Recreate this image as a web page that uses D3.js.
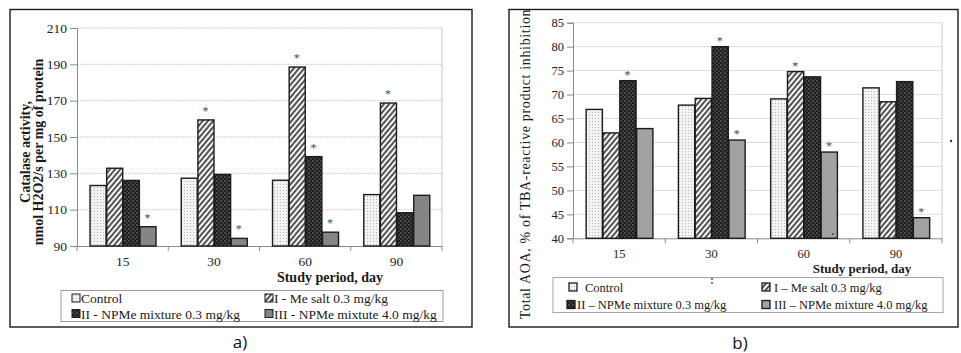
<!DOCTYPE html>
<html><head><meta charset="utf-8">
<script src="https://cdn.jsdelivr.net/npm/d3@7"></script>
<style>
html,body{margin:0;padding:0;background:#fff;}
svg{display:block;}
</style></head>
<body>
<svg id="c" width="961" height="353"></svg>
<script>
// ---------- data ----------
const categories = ["15", "30", "60", "90"];
const seriesNamesA = ["Control", "I - Me salt 0.3 mg/kg", "II - NPMe mixture 0.3 mg/kg", "III - NPMe mixtute 4.0 mg/kg"];
const seriesNamesB = ["Control", "I –  Me salt 0.3 mg/kg", "II –  NPMe mixture  0.3 mg/kg", "III –  NPMe mixture 4.0 mg/kg"];

// a) Catalase activity
const catalaseControl = [123.3, 127.3, 126.2, 118.3];
const catalaseMeSalt = [132.8, 159.4, 188.5, 168.7];
const catalaseNPMe03 = [126.1, 129.4, 139.2, 108.3];
const catalaseNPMe40 = [100.6, 94.2, 97.6, 117.9];
const yTicksA = [90, 110, 130, 150, 170, 190, 210];
const starsA = [[0, 3], [1, 1], [1, 3], [2, 1], [2, 2], [2, 3], [3, 1]];

// b) Total AOA
const aoaControl = [66.9, 67.8, 69.1, 71.4];
const aoaMeSalt = [62.0, 69.2, 74.8, 68.5];
const aoaNPMe03 = [72.9, 80.0, 73.7, 72.7];
const aoaNPMe40 = [62.9, 60.5, 58.0, 44.3];
const yTicksB = [40, 45, 50, 55, 60, 65, 70, 75, 80, 85];
const starsB = [[0, 2], [1, 2], [1, 3], [2, 1], [2, 3], [3, 3]];

// ---------- drawing ----------
const svg = d3.select("#c");
const defs = svg.append("defs");
const SERIF = "'Liberation Serif','Times New Roman',serif";

function makePatterns(prefix, grayFill) {
  const p0 = defs.append("pattern").attr("id", prefix + "dots").attr("width", 3).attr("height", 3).attr("patternUnits", "userSpaceOnUse");
  p0.append("rect").attr("width", 3).attr("height", 3).attr("fill", "#f3f3f3");
  p0.append("rect").attr("x", 1).attr("y", 1).attr("width", 1).attr("height", 1).attr("fill", "#b5b5b5");
  const p1 = defs.append("pattern").attr("id", prefix + "hatch").attr("width", 4).attr("height", 4).attr("patternUnits", "userSpaceOnUse").attr("patternTransform", "rotate(40)");
  p1.append("rect").attr("width", 4).attr("height", 4).attr("fill", "#f5f5f5");
  p1.append("line").attr("x1", 1).attr("y1", 0).attr("x2", 1).attr("y2", 4).attr("stroke", "#2b2b2b").attr("stroke-width", 1.6);
  const p2 = defs.append("pattern").attr("id", prefix + "check").attr("width", 4).attr("height", 4).attr("patternUnits", "userSpaceOnUse");
  p2.append("rect").attr("width", 4).attr("height", 4).attr("fill", "#1e1e1e");
  p2.append("rect").attr("x", 0).attr("y", 0).attr("width", 2).attr("height", 2).attr("fill", "#4a4a4a");
  p2.append("rect").attr("x", 2).attr("y", 2).attr("width", 2).attr("height", 2).attr("fill", "#3a3a3a");
  return ["url(#" + prefix + "dots)", "url(#" + prefix + "hatch)", "url(#" + prefix + "check)", grayFill];
}
const fillsA = makePatterns("a", "#858585");
const fillsB = makePatterns("b", "#a2a2a2");

function panel(cfg) {
  const g = svg.append("g");
  g.append("rect").attr("x", cfg.frame[0]).attr("y", cfg.frame[1]).attr("width", cfg.frame[2]).attr("height", cfg.frame[3])
    .attr("fill", "none").attr("stroke", "#1a1a1a").attr("stroke-width", 1.4);

  const x = d3.scaleBand().domain(categories).range([cfg.left, cfg.right]).paddingInner(0.27).paddingOuter(0.135);
  const xs = d3.scaleBand().domain(d3.range(4)).range([0, x.bandwidth()]).padding(0);
  const y = d3.scaleLinear().domain([cfg.yTicks[0], cfg.yTicks[cfg.yTicks.length - 1]]).range([cfg.bottom, cfg.top]);

  g.append("g").selectAll("line").data(cfg.yTicks.slice(1)).join("line")
    .attr("x1", cfg.left).attr("x2", cfg.right).attr("y1", d => y(d)).attr("y2", d => y(d))
    .attr("stroke", cfg.gridColor).attr("stroke-width", 1).attr("stroke-dasharray", cfg.gridDash);
  g.append("line").attr("x1", cfg.right).attr("x2", cfg.right).attr("y1", cfg.top).attr("y2", cfg.bottom)
    .attr("stroke", "#c8c8c8").attr("stroke-width", 1);

  const ya = g.append("g").attr("transform", `translate(${cfg.left},0)`)
    .call(d3.axisLeft(y).tickValues(cfg.yTicks).tickSize(cfg.ySize).tickPadding(cfg.yPad).tickFormat(d3.format("d")));
  ya.select(".domain").attr("stroke", "#8a8a8a");
  ya.selectAll(".tick line").attr("stroke", "#8a8a8a");
  ya.selectAll("text").attr("font-family", SERIF).attr("font-size", cfg.tickFont).attr("fill", "#222");

  const xa = g.append("g").attr("transform", `translate(0,${cfg.bottom})`)
    .call(d3.axisBottom(x).tickSize(0).tickPadding(cfg.xPad));
  xa.select(".domain").attr("stroke", "#8a8a8a");
  xa.selectAll("text").attr("font-family", SERIF).attr("font-size", cfg.tickFont).attr("fill", "#222");
  const step = x.step();
  g.append("g").selectAll("line").data(d3.range(categories.length + 1)).join("line")
    .attr("x1", i => cfg.left + i * step).attr("x2", i => cfg.left + i * step)
    .attr("y1", cfg.bottom).attr("y2", cfg.bottom + 5).attr("stroke", "#8a8a8a");

  const rows = [];
  cfg.series.forEach((vals, s) => vals.forEach((v, c) => rows.push({ c, s, v })));
  g.append("g").selectAll("rect").data(rows).join("rect")
    .attr("x", d => x(categories[d.c]) + xs(d.s) + 0.7)
    .attr("width", xs.bandwidth() - 0.6)
    .attr("y", d => y(d.v))
    .attr("height", d => cfg.bottom - y(d.v))
    .attr("fill", d => cfg.fills[d.s])
    .attr("stroke", "#1c1c1c").attr("stroke-width", 1.4);

  g.append("g").selectAll("text").data(cfg.stars).join("text")
    .attr("x", d => x(categories[d[0]]) + xs(d[1]) + xs.bandwidth() / 2)
    .attr("y", d => y(cfg.series[d[1]][d[0]]) - cfg.starGap)
    .attr("text-anchor", "middle").attr("font-family", SERIF).attr("font-size", 12).attr("fill", "#4a4a4a").text("*");

  return { g, x, y };
}

// ----- panel a -----
const pa = panel({
  frame: [10, 9.5, 462, 317.5], left: 77, right: 442, top: 28, bottom: 246,
  yTicks: yTicksA, series: [catalaseControl, catalaseMeSalt, catalaseNPMe03, catalaseNPMe40],
  fills: fillsA, stars: starsA, tickFont: 13.5, ySize: 7, yPad: 3, xPad: 10,
  gridColor: "#cfcfcf", gridDash: "2,1", starGap: 5
});
pa.g.append("text").attr("transform", "translate(25,152) rotate(-90)").attr("text-anchor", "middle").attr("dominant-baseline", "central")
  .attr("font-family", SERIF).attr("font-size", 14).attr("font-weight", "bold").attr("fill", "#1a1a1a").text("Catalase activity,");
pa.g.append("text").attr("transform", "translate(38.5,152) rotate(-90)").attr("text-anchor", "middle").attr("dominant-baseline", "central")
  .attr("font-family", SERIF).attr("font-size", 14).attr("font-weight", "bold").attr("fill", "#1a1a1a").text("nmol H2O2/s per mg of protein");
pa.g.append("text").attr("x", 330).attr("y", 282).attr("text-anchor", "middle")
  .attr("font-family", SERIF).attr("font-size", 14).attr("font-weight", "bold").attr("fill", "#1a1a1a").text("Study period, day");

const lgA = pa.g.append("g");
lgA.append("rect").attr("x", 61).attr("y", 290.5).attr("width", 382).attr("height", 31).attr("fill", "none").attr("stroke", "#9a9a9a");
const legPosA = [[76, 298.5], [269, 298.5], [76, 314], [269, 314]];
seriesNamesA.forEach((n, i) => {
  const [lx, ly] = legPosA[i];
  lgA.append("rect").attr("x", lx - 4).attr("y", ly - 4.5).attr("width", 8).attr("height", 8).attr("fill", fillsA[i]).attr("stroke", "#1c1c1c");
  lgA.append("text").attr("x", lx + 5).attr("y", ly).attr("dominant-baseline", "central")
    .attr("font-family", SERIF).attr("font-size", 13.5).attr("fill", "#1a1a1a").text(n);
});

// ----- panel b -----
const pb = panel({
  frame: [509, 9.5, 449, 317.5], left: 573, right: 942, top: 22.7, bottom: 238.3,
  yTicks: yTicksB, series: [aoaControl, aoaMeSalt, aoaNPMe03, aoaNPMe40],
  fills: fillsB, stars: starsB, tickFont: 12.5, ySize: 6, yPad: 3, xPad: 11,
  gridColor: "#dcdcdc", gridDash: null, starGap: 2
});
pb.g.append("text").attr("transform", "translate(525,164) rotate(-90)").attr("text-anchor", "middle").attr("dominant-baseline", "central")
  .attr("font-family", SERIF).attr("font-size", 14).attr("letter-spacing", 0.65).attr("fill", "#1a1a1a").text("Total AOA, % of TBA-reactive product inhibition");
pb.g.append("text").attr("x", 862).attr("y", 273).attr("text-anchor", "middle")
  .attr("font-family", SERIF).attr("font-size", 13).attr("font-weight", "bold").attr("fill", "#1a1a1a").text("Study period, day");
pb.g.append("circle").attr("cx", 833).attr("cy", 234).attr("r", 0.9).attr("fill", "#444");
pb.g.append("circle").attr("cx", 951).attr("cy", 141).attr("r", 1.2).attr("fill", "#333");
pb.g.append("circle").attr("cx", 712).attr("cy", 279).attr("r", 0.9).attr("fill", "#333");
pb.g.append("circle").attr("cx", 712).attr("cy", 283).attr("r", 0.9).attr("fill", "#333");

const lgB = pb.g.append("g");
lgB.append("rect").attr("x", 553).attr("y", 277.5).attr("width", 390).attr("height", 35).attr("fill", "none").attr("stroke", "#a8a8a8");
const legPosB = [[573, 287.5], [766, 287.5], [571, 305], [766, 305]];
const legTextXB = [585, 774, 577, 774];
seriesNamesB.forEach((n, i) => {
  const [lx, ly] = legPosB[i];
  lgB.append("rect").attr("x", lx - 4).attr("y", ly - 4.5).attr("width", 8).attr("height", 8).attr("fill", fillsB[i]).attr("stroke", "#1c1c1c").attr("stroke-width", 1.3);
  lgB.append("text").attr("x", legTextXB[i]).attr("y", ly).attr("dominant-baseline", "central")
    .attr("font-family", SERIF).attr("font-size", 12.5).attr("fill", "#1a1a1a").text(n);
});

svg.append("text").attr("x", 240).attr("y", 341).attr("text-anchor", "middle").attr("dominant-baseline", "central")
  .attr("font-family", "'Open Sans','DejaVu Sans',sans-serif").attr("font-size", 17).attr("fill", "#111").text("a)");
svg.append("text").attr("x", 740).attr("y", 342).attr("text-anchor", "middle").attr("dominant-baseline", "central")
  .attr("font-family", "'Open Sans','DejaVu Sans',sans-serif").attr("font-size", 17).attr("fill", "#111").text("b)");
</script>
</body></html>
